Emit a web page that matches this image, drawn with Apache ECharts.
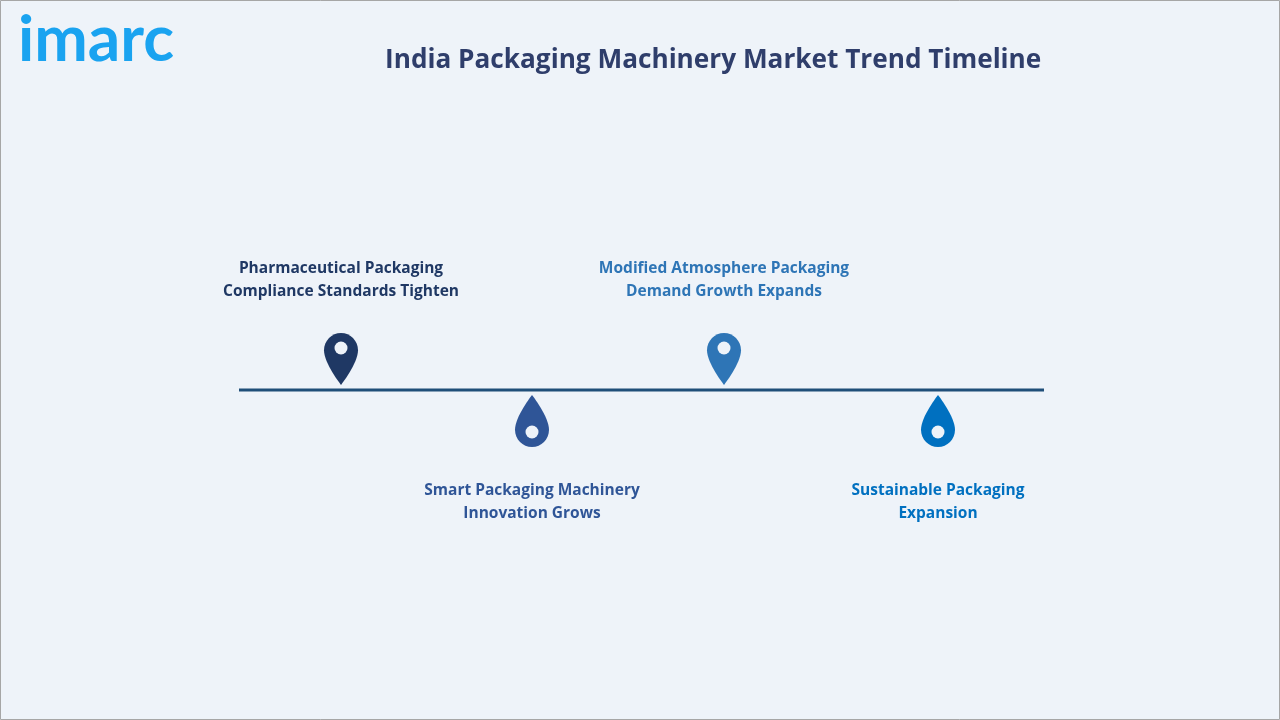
<!DOCTYPE html>
<html><head><meta charset="utf-8">
<script src="https://cdn.jsdelivr.net/npm/echarts@6/dist/echarts.min.js"></script>
<style>html,body{margin:0;padding:0;background:#eef3f9}#c{width:1280px;height:720px}</style>
</head><body><div id="c"></div>
<script>
// timeline events
var eventNames = ['Pharmaceutical Packaging\nCompliance Standards Tighten', 'Smart Packaging Machinery\nInnovation Grows', 'Modified Atmosphere Packaging\nDemand Growth Expands', 'Sustainable Packaging\nExpansion'];
var eventX = [102, 293, 485, 699];
var eventSide = [1, -1, 1, -1];
var eventColors = ['#1f3864', '#2f5597', '#2e75b6', '#0070c0'];
var lineRange = [0, 805];

var chart = echarts.init(document.getElementById('c'));
var pinPath = 'path://M12 0C5.4 0 0 5.4 0 12c0 9 12 24 12 24s12-15 12-24C24 5.4 18.6 0 12 0z';

var pins = [], holes = [], labels = [];
for (var i = 0; i < eventX.length; i++) {
	var s = eventSide[i];
	pins.push({value: [eventX[i], s * 31], symbolRotate: s > 0 ? 0 : 180, itemStyle: {color: eventColors[i]}});
	holes.push([eventX[i], s > 0 ? 42 : -42]);
	labels.push({value: [eventX[i], s > 0 ? 110 : -112], label: {color: eventColors[i]}});
}

chart.setOption({
	backgroundColor: '#eef3f9',
	graphic: [
		{type: 'rect', shape: {x: 0.5, y: 0.5, width: 1279, height: 719}, style: {fill: 'none', stroke: '#a6a6a6', lineWidth: 1}},
		{type: 'text', left: 18, top: 8, style: {text: 'imarc', font: 'bold 64px Lato', fill: '#1aa3f0'}}
	],
	title: {text: 'India Packaging Machinery Market Trend Timeline', left: 380, top: 43,
		textStyle: {color: '#2f3e6b', fontSize: 26.2, fontWeight: 'bold', fontFamily: 'Open Sans'}},
	grid: {left: 239, right: 236, top: 140, bottom: 80},
	xAxis: {type: 'value', min: lineRange[0], max: lineRange[1], show: false},
	yAxis: {type: 'value', min: -250, max: 250, show: false},
	series: [
		{type: 'line', data: [[lineRange[0], 0], [lineRange[1], 0]], symbol: 'none', silent: true,
			lineStyle: {color: '#1f4e79', width: 3}},
		{type: 'scatter', data: pins, symbol: pinPath, symbolSize: [34, 52], silent: true, z: 3, itemStyle: {opacity: 1}},
		{type: 'scatter', data: holes, symbol: 'circle', symbolSize: 13, itemStyle: {color: '#eef3f9', opacity: 1}, silent: true, z: 4},
		{type: 'scatter', data: labels, symbolSize: 0, silent: true, itemStyle: {opacity: 1},
			label: {show: true, position: 'inside', fontSize: 15.5, fontWeight: 'bold', fontFamily: 'Open Sans', lineHeight: 23,
				formatter: function (p) { return eventNames[p.dataIndex]; }}}
	]
});
</script></body></html>
